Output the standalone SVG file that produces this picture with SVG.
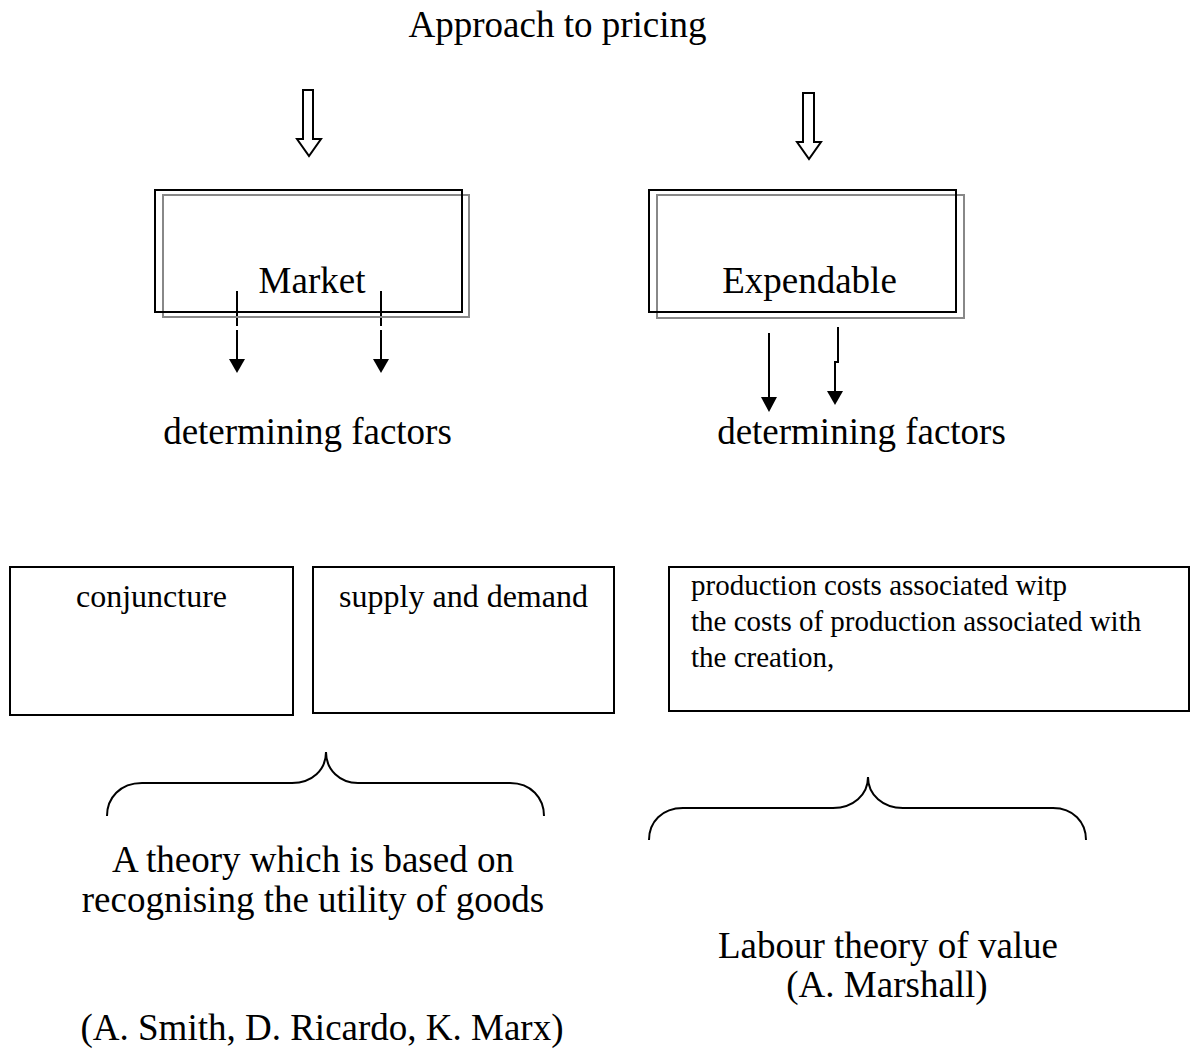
<svg xmlns="http://www.w3.org/2000/svg" width="1192" height="1052" viewBox="0 0 1192 1052">
<style>
text{font-family:"Liberation Serif","Times New Roman",serif;fill:#000}
.big{font-size:37px}
.mid{font-size:32px}
.sm{font-size:29px}
.box{fill:none;stroke:#000;stroke-width:2}
.shadow{fill:none;stroke:#888;stroke-width:2}
.hollow{fill:#fff;stroke:#000;stroke-width:2;stroke-linejoin:miter}
.ln{fill:none;stroke:#000;stroke-width:2}
.brace{fill:none;stroke:#000;stroke-width:2}
</style>
<defs>
<marker id="ah" viewBox="0 0 16 14" refX="8" refY="0" markerWidth="16" markerHeight="14" markerUnits="userSpaceOnUse" orient="auto-start-reverse">
<path d="M0,0 L16,0 L8,14 Z" fill="#000"/>
</marker>
</defs>
<rect width="1192" height="1052" fill="#fff"/>

<g id="title"><text class="big" x="557.5" y="37" text-anchor="middle">Approach to pricing</text></g>

<g id="connectors">
<path class="hollow" d="M303,90 L313,90 L313,139 L321,139 L309,156 L297,139 L303,139 Z"/>
<path class="hollow" d="M803,93 L814,93 L814,142 L821,142 L809,159 L797,142 L803,142 Z"/>
<line class="ln" x1="237" y1="291" x2="237" y2="326"/>
<path d="M237,330 L237,359" class="ln"/>
<path d="M229,359 L245,359 L237,373 Z" fill="#000"/>
<line class="ln" x1="381" y1="291" x2="381" y2="326"/>
<path d="M381,330 L381,359" class="ln"/>
<path d="M373,359 L389,359 L381,373 Z" fill="#000"/>
<path d="M769,333 L769,397" class="ln"/>
<path d="M761,397 L777,397 L769,412 Z" fill="#000"/>
<path d="M838,327 L838,362 L835,362 L835,391" class="ln"/>
<path d="M827,391 L843,391 L835,405 Z" fill="#000"/>
<path class="brace" d="M107,816 C107,798 120,783 142,783 L292,783 C312,783 326,770 326,752 C326,770 340,783 358,783 L510,783 C531,783 544,798 544,816"/>
<path class="brace" d="M649,840 C649,822 662,808 683,808 L833,808 C853,808 868,795 868,777 C868,795 883,808 903,808 L1053,808 C1073,808 1086,822 1086,840"/>
</g>

<g id="market">
<rect class="shadow" x="163" y="195" width="306" height="122"/>
<rect class="box" x="155" y="190" width="307" height="122"/>
<text class="big" x="312" y="293" text-anchor="middle">Market</text>
</g>

<g id="expendable">
<rect class="shadow" x="657" y="195" width="307" height="123"/>
<rect class="box" x="649" y="190" width="307" height="122"/>
<text class="big" x="809.5" y="293" text-anchor="middle">Expendable</text>
</g>

<g id="factors-left"><text class="big" x="307.5" y="444" text-anchor="middle">determining factors</text></g>
<g id="factors-right"><text class="big" x="861.5" y="444" text-anchor="middle">determining factors</text></g>

<g id="conjuncture">
<rect class="box" x="10" y="567" width="283" height="148"/>
<text class="mid" x="151.5" y="607" text-anchor="middle">conjuncture</text>
</g>

<g id="supply-demand">
<rect class="box" x="313" y="567" width="301" height="146"/>
<text class="mid" x="463.5" y="607" text-anchor="middle">supply and demand</text>
</g>

<g id="production-costs">
<rect class="box" x="669" y="567" width="520" height="144"/>
<text class="sm" x="691" y="595">production costs associated witp</text>
<text class="sm" x="691" y="631">the costs of production associated with</text>
<text class="sm" x="691" y="667">the creation,</text>
</g>

<g id="utility-theory">
<text class="big" x="313" y="872" text-anchor="middle">A theory which is based on</text>
<text class="big" x="313" y="912" text-anchor="middle">recognising the utility of goods</text>
<text class="big" x="322" y="1040" text-anchor="middle">(A. Smith, D. Ricardo, K. Marx)</text>
</g>

<g id="labour-theory">
<text class="big" x="888" y="958" text-anchor="middle">Labour theory of value</text>
<text class="big" x="887" y="997" text-anchor="middle">(A. Marshall)</text>
</g>
</svg>
